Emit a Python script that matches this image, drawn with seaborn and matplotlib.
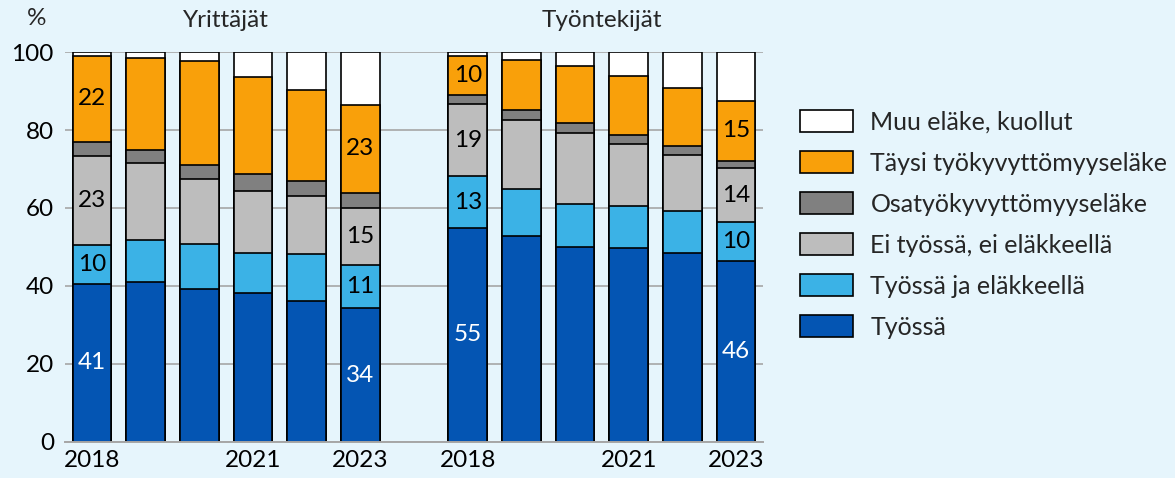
import numpy as np
import pandas as pd
import matplotlib.pyplot as plt
import seaborn as sns

years = [2018, 2019, 2020, 2021, 2022, 2023]
groups = ['Yrittäjät', 'Työntekijät']
categories = ['Työssä', 'Työssä ja eläkkeellä', 'Ei työssä, ei eläkkeellä',
              'Osatyökyvyttömyyseläke', 'Täysi työkyvyttömyyseläke', 'Muu eläke, kuollut']

# Yrittäjät
tyossa_y = [40.6, 41.1, 39.2, 38.3, 36.2, 34.3]
tje_y = [9.9, 10.8, 11.5, 10.2, 11.9, 11.2]
ei_y = [22.8, 19.6, 16.7, 15.8, 15.0, 14.6]
osa_y = [3.7, 3.5, 3.7, 4.4, 3.9, 3.8]
taysi_y = [21.9, 23.5, 26.6, 25.0, 23.3, 22.6]
muu_y = [1.1, 1.5, 2.3, 6.3, 9.7, 13.5]

# Työntekijät
tyossa_t = [54.9, 52.7, 50.0, 49.7, 48.5, 46.3]
tje_t = [13.2, 12.2, 10.9, 10.9, 10.8, 10.0]
ei_t = [18.6, 17.6, 18.3, 15.7, 14.3, 13.9]
osa_t = [2.3, 2.6, 2.5, 2.5, 2.2, 1.9]
taysi_t = [10.0, 12.8, 14.6, 15.1, 15.0, 15.3]
muu_t = [1.0, 2.1, 3.7, 6.1, 9.2, 12.6]

colors = ['#0455B3', '#3BB2E6', '#BDBDBD', '#808080', '#F9A00A', '#FFFFFF']
bg = '#E6F5FC'

series = {
    'Yrittäjät': [tyossa_y, tje_y, ei_y, osa_y, taysi_y, muu_y],
    'Työntekijät': [tyossa_t, tje_t, ei_t, osa_t, taysi_t, muu_t],
}
prefix = {'Yrittäjät': 'Y', 'Työntekijät': 'T'}
order = [f'Y{y}' for y in years] + ['gap'] + [f'T{y}' for y in years]

rows = []
for g in groups:
    vals = np.array(series[g])
    cum = vals.cumsum(axis=0)
    for ci, cat in enumerate(categories):
        for yi, yr in enumerate(years):
            rows.append({'slot': f'{prefix[g]}{yr}', 'group': g, 'cat': cat,
                         'value': vals[ci, yi], 'cum': cum[ci, yi],
                         'base': cum[ci, yi] - vals[ci, yi]})
df = pd.DataFrame(rows)

sns.set_theme(style='white')
plt.rcParams['font.family'] = ['Lato', 'DejaVu Sans']
fs = 17.5
lfs = 18

fig = plt.figure(figsize=(11.75, 4.78), dpi=100, facecolor=bg)
ax = fig.add_axes([65 / 1175, 36 / 478, 698 / 1175, 390 / 478])
ax.set_facecolor(bg)

# stacked look: draw cumulative totals from the top layer down
for cat, col in reversed(list(zip(categories, colors))):
    sub = df[df['cat'] == cat]
    sns.barplot(data=sub, x='slot', y='cum', order=order, color=col, saturation=1,
                width=0.72, edgecolor='black', linewidth=1.2, errorbar=None,
                label=cat, ax=ax)

# value labels on first and last bars
show = ['Työssä', 'Työssä ja eläkkeellä', 'Ei työssä, ei eläkkeellä', 'Täysi työkyvyttömyyseläke']
lab = df[df['cat'].isin(show) & df['slot'].str[1:].isin(['2018', '2023'])]
for _, r in lab.iterrows():
    ax.text(order.index(r['slot']), r['base'] + r['value'] / 2, f"{r['value']:.0f}",
            ha='center', va='center', fontsize=fs,
            color='white' if r['cat'] == 'Työssä' else 'black')

ax.set_xlim(-0.5, 12.5)
ax.set_ylim(0, 100)
ax.set_yticks(range(0, 101, 20))
ax.set_xticks([0, 3, 5, 7, 10, 12])
ax.set_xticklabels(['2018', '2021', '2023', '2018', '2021', '2023'])
ax.tick_params(axis='both', labelsize=fs, length=0, colors='black')
ax.tick_params(axis='y', pad=8)
ax.tick_params(axis='x', pad=6)
ax.set_xlabel('')
ax.set_ylabel('')
ax.yaxis.grid(True, color='#A6A6A6', linewidth=1.2)
ax.set_axisbelow(True)
for s in ['left', 'right', 'top']:
    ax.spines[s].set_visible(False)
ax.spines['bottom'].set_color('#A6A6A6')
ax.spines['bottom'].set_linewidth(1.4)

ax.text(2.5, 108, 'Yrittäjät', ha='center', va='center', fontsize=fs, clip_on=False)
ax.text(9.5, 108, 'Työntekijät', ha='center', va='center', fontsize=fs, clip_on=False)
ax.text(-1.03, 108.5, '%', ha='center', va='center', fontsize=fs, clip_on=False)

handles, labels = ax.get_legend_handles_labels()
if ax.get_legend() is not None:
    ax.get_legend().remove()
fig.legend(handles, labels, loc='upper left', bbox_to_anchor=(800 / 1175, 1 - 110 / 478),
           frameon=False, fontsize=lfs, handlelength=2.1, handleheight=1.0,
           handletextpad=0.72, labelspacing=0.69, borderpad=0, borderaxespad=0)

fig.savefig('out.png', dpi=100, facecolor=bg)
